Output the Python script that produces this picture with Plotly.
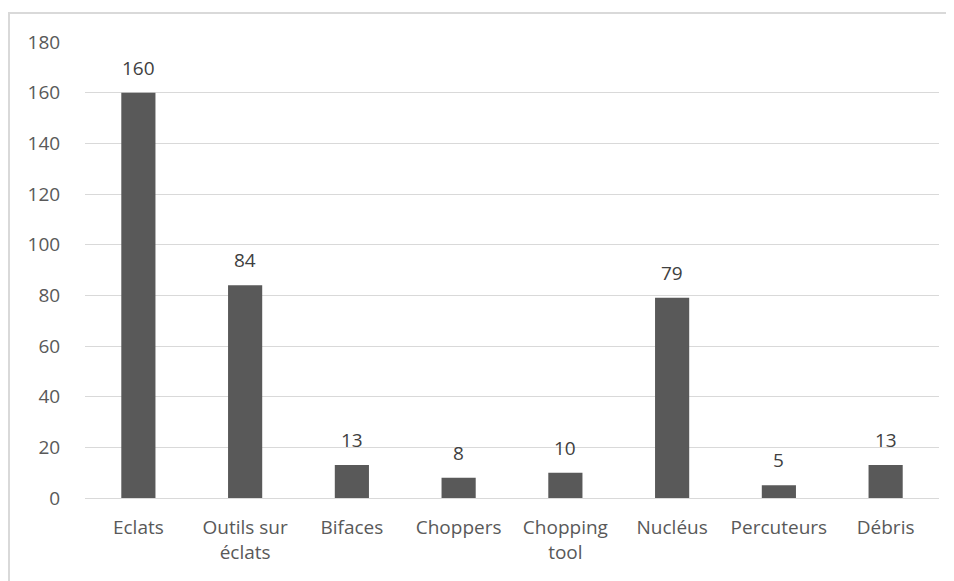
import plotly.graph_objects as go

categories = ["Eclats", "Outils sur<br>éclats", "Bifaces", "Choppers", "Chopping<br>tool",
              "Nucléus", "Percuteurs", "Débris"]
counts = [160, 84, 13, 8, 10, 79, 5, 13]
y_ticks = [0, 20, 40, 60, 80, 100, 120, 140, 160, 180]

txt = "#595959"
fnt = "Open Sans, sans-serif"

fig = go.Figure()
fig.add_trace(go.Bar(
    x=categories, y=counts,
    marker=dict(color="#595959", line=dict(width=0)),
))

# étiquettes de données au-dessus des barres
for c, v in zip(categories, counts):
    fig.add_annotation(x=c, y=v, text=str(v), showarrow=False, yanchor="bottom",
                       yshift=10, font=dict(family=fnt, size=19, color="#404040"))

fig.update_layout(
    width=946, height=573,
    margin=dict(l=77, r=15, t=34, b=83),
    paper_bgcolor="white", plot_bgcolor="white",
    font=dict(family=fnt, size=19, color=txt),
    bargap=0.68,
    showlegend=False,
    xaxis=dict(showgrid=False, showline=True, linecolor="#d9d9d9", linewidth=1,
               ticks="outside", ticklen=12, tickcolor="rgba(0,0,0,0)",
               tickfont=dict(size=19, color=txt)),
    yaxis=dict(range=[0, 180], tickvals=y_ticks, showgrid=True, gridcolor="#d9d9d9",
               gridwidth=1, zeroline=False, showline=False, ticks="outside",
               ticklen=20, tickcolor="rgba(0,0,0,0)", tickfont=dict(size=19, color=txt)),
    shapes=[dict(type="rect", xref="paper", yref="paper",
                 x0=-0.089, x1=1.03, y0=-0.22, y1=1.0636,
                 line=dict(color="#d9d9d9", width=2), layer="below")],
)

fig.write_html("out.html")
